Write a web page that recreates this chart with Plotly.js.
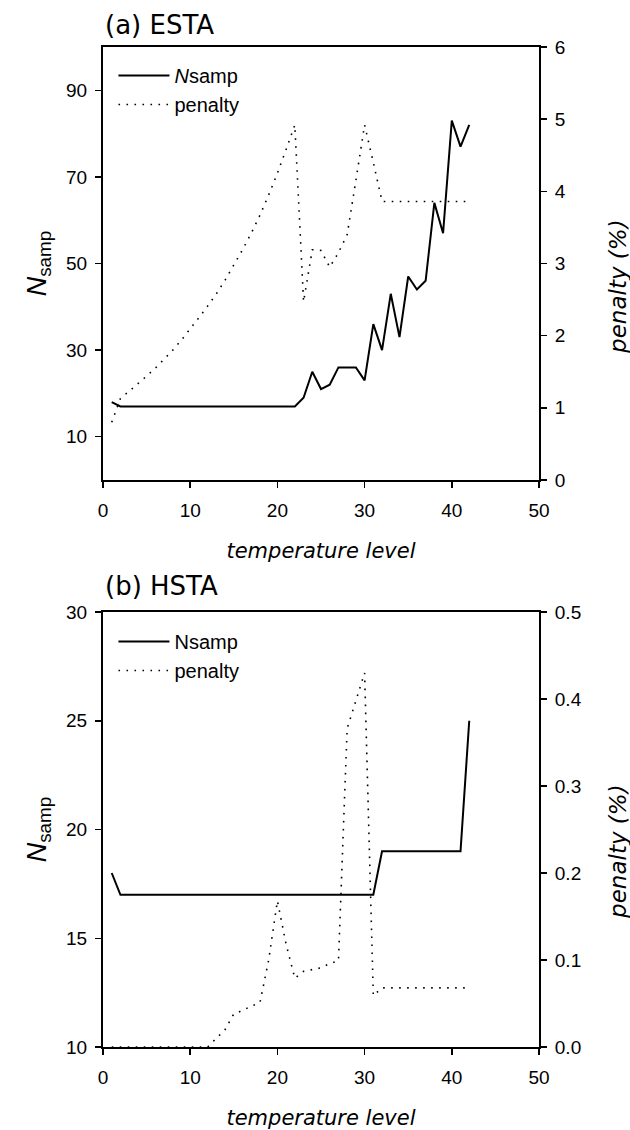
<!DOCTYPE html>
<html>
<head>
<meta charset="utf-8">
<script src="https://cdn.plot.ly/plotly-3.0.1.min.js"></script>
<style>html,body{margin:0;padding:0;background:#fff;}#chart{width:630px;height:1130px;}</style>
</head>
<body>
<div id="chart"></div>
<script>
// ---- data ----
const levelsA = [1,2,3,4,5,6,7,8,9,10,11,12,13,14,15,16,17,18,19,20,21,22,23,24,25,26,27,28,29,30,31,32,33,34,35,36,37,38,39,40,41,42];
const nsampA = [18,17,17,17,17,17,17,17,17,17,17,17,17,17,17,17,17,17,17,17,17,17,19,25,21,22,26,26,26,23,36,30,43,33,47,44,46,64,57,83,77,82];
const penaltyA = [0.80,1.13,1.23,1.33,1.44,1.55,1.67,1.80,1.94,2.09,2.25,2.41,2.58,2.77,2.97,3.19,3.42,3.67,3.95,4.25,4.58,4.92,2.47,3.19,3.18,2.95,3.15,3.40,4.15,4.92,4.40,3.86,3.86,3.86,3.86,3.86,3.86,3.86,3.86,3.86,3.86,3.86];

const levelsB = [1,2,3,4,5,6,7,8,9,10,11,12,13,14,15,16,17,18,19,20,21,22,23,24,25,26,27,28,29,30,31,32,33,34,35,36,37,38,39,40,41,42];
const nsampB = [18,17,17,17,17,17,17,17,17,17,17,17,17,17,17,17,17,17,17,17,17,17,17,17,17,17,17,17,17,17,17,19,19,19,19,19,19,19,19,19,19,25];
const penaltyB = [0,0,0,0,0,0,0,0,0,0,0,0,0.010,0.020,0.038,0.042,0.047,0.051,0.100,0.168,0.118,0.079,0.087,0.089,0.091,0.096,0.099,0.366,0.398,0.430,0.059,0.068,0.068,0.068,0.068,0.068,0.068,0.068,0.068,0.068,0.068,0.068];

const xTicks = [0,10,20,30,40,50];
const yTicksA = [10,30,50,70,90];
const y2TicksA = [0,1,2,3,4,5,6];
const yTicksB = [10,15,20,25,30];
const y2TicksB = [0,0.1,0.2,0.3,0.4,0.5];

const namesA = ['<i>N</i>samp','penalty'];
const namesB = ['Nsamp','penalty'];
const panelTitles = ['(a) ESTA','(b) HSTA'];
const rightTitle = '<i>penalty (%)</i>';

// ---- styling ----
const FONT = 'Liberation Sans, Arial, Helvetica, sans-serif';
const TFONT = 'DejaVu Sans, Liberation Sans, sans-serif';
const solid = {color:'#000', width:2};
const dotted = {color:'#000', width:1.6, dash:'1.6px,6.4px'};

const axisCommon = {
  showline:true, linewidth:2, linecolor:'#000',
  ticks:'outside', ticklen:6, tickwidth:1.5, tickcolor:'#000',
  showgrid:false, zeroline:false,
  tickfont:{family:FONT, size:19, color:'#000'}
};

const traces = [
  {x:levelsA, y:nsampA, name:namesA[0], type:'scatter', mode:'lines', line:solid, xaxis:'x', yaxis:'y', legend:'legend'},
  {x:levelsA, y:penaltyA, name:namesA[1], type:'scatter', mode:'lines', line:dotted, xaxis:'x', yaxis:'y2', legend:'legend'},
  {x:levelsB, y:nsampB, name:namesB[0], type:'scatter', mode:'lines', line:solid, xaxis:'x2', yaxis:'y3', legend:'legend2'},
  {x:levelsB, y:penaltyB, name:namesB[1], type:'scatter', mode:'lines', line:dotted, xaxis:'x2', yaxis:'y4', legend:'legend2'}
];

const xTitle = {text:'<i>temperature level</i>', font:{family:TFONT, size:21, color:'#000'}, standoff:24};
const yTitle = {text:'<i>N</i><sub>samp</sub>', font:{family:FONT, size:27, color:'#000'}, standoff:12};

const layout = {
  width:630, height:1130,
  paper_bgcolor:'#fff', plot_bgcolor:'#fff',
  margin:{l:103, r:91, t:47, b:83},
  font:{family:FONT, color:'#000'},
  showlegend:true,
  xaxis:Object.assign({}, axisCommon, {domain:[0,1], anchor:'y', range:[0,50], tickvals:xTicks, mirror:true, ticklabelstandoff:6, title:xTitle}),
  yaxis:Object.assign({}, axisCommon, {domain:[0.567,1], anchor:'x', range:[0,100], tickvals:yTicksA, ticklabelstandoff:4, title:yTitle}),
  yaxis2:Object.assign({}, axisCommon, {overlaying:'y', side:'right', anchor:'x', range:[0,6], tickvals:y2TicksA, ticklabelstandoff:4}),
  xaxis2:Object.assign({}, axisCommon, {domain:[0,1], anchor:'y3', range:[0,50], tickvals:xTicks, mirror:true, ticklabelstandoff:6, title:xTitle}),
  yaxis3:Object.assign({}, axisCommon, {domain:[0,0.435], anchor:'x2', range:[10,30], tickvals:yTicksB, ticklabelstandoff:4, title:yTitle}),
  yaxis4:Object.assign({}, axisCommon, {overlaying:'y3', side:'right', anchor:'x2', range:[0,0.5], tickvals:y2TicksB, tickformat:'.1f', ticklabelstandoff:4}),
  legend:{x:0.024, xanchor:'left', y:0.991, yanchor:'top', bgcolor:'rgba(0,0,0,0)', borderwidth:0, font:{family:FONT, size:20, color:'#000'}, itemwidth:51, tracegroupgap:0},
  legend2:{x:0.024, xanchor:'left', y:0.425, yanchor:'top', bgcolor:'rgba(0,0,0,0)', borderwidth:0, font:{family:FONT, size:20, color:'#000'}, itemwidth:51, tracegroupgap:0},
  annotations:[
    {text:panelTitles[0], xref:'paper', yref:'paper', x:0.0, y:1.022, xanchor:'left', yanchor:'middle', showarrow:false, font:{family:TFONT, size:26, color:'#000'}},
    {text:panelTitles[1], xref:'paper', yref:'paper', x:0.0, y:0.461, xanchor:'left', yanchor:'middle', showarrow:false, font:{family:TFONT, size:26, color:'#000'}},
    {text:rightTitle, xref:'paper', yref:'paper', x:1.181, y:0.761, xanchor:'center', yanchor:'middle', textangle:-90, showarrow:false, font:{family:TFONT, size:23, color:'#000'}},
    {text:rightTitle, xref:'paper', yref:'paper', x:1.181, y:0.196, xanchor:'center', yanchor:'middle', textangle:-90, showarrow:false, font:{family:TFONT, size:23, color:'#000'}}
  ]
};

Plotly.newPlot('chart', traces, layout, {displayModeBar:false, staticPlot:true});
</script>
</body>
</html>
